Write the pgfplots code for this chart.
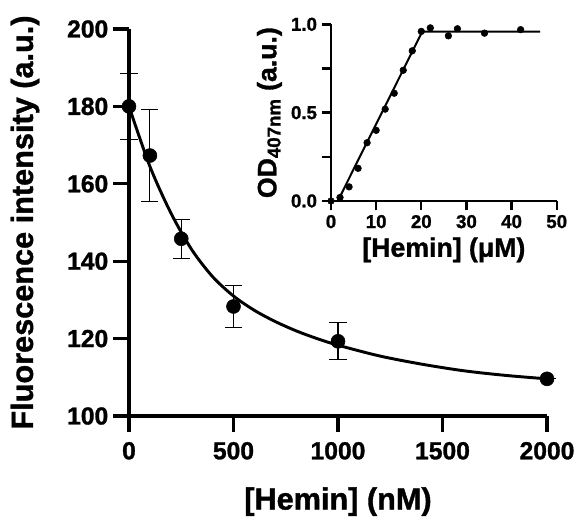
\documentclass[border=0pt]{standalone}
\usepackage{fontspec}
\setmainfont{Liberation Sans}[BoldFeatures={FakeBold=1.2}]
\usepackage{pgfplots}
\pgfplotsset{compat=1.18}
\usetikzlibrary{calc}

\begin{document}
\begin{tikzpicture}
\begin{axis}[
  name=main, at={(0,0)}, anchor=south west,
  width=313.5pt, height=290.25pt, scale only axis,
  xmin=0, xmax=2000, ymin=100, ymax=200,
  axis x line*=bottom, axis y line*=left,
  axis line style={line width=2.6pt},
  xtick={0,500,1000,1500,2000},
  ytick={100,120,140,160,180,200},
  tick align=outside, major tick length=12pt,
  tick style={line width=2.4pt, black},
  scaled ticks=false,
  /pgf/number format/assume math mode=true,
  /pgf/number format/1000 sep={},
  ticklabel style={font=\fontsize{18.5}{20}\selectfont\bfseries},
  xticklabel style={yshift=-4pt},
  xlabel={[Hemin] (nM)}, ylabel={Fluorescence intensity (a.u.)},
  label style={font=\fontsize{23}{26}\selectfont\bfseries},
  xlabel style={yshift=-14pt},
  ylabel style={yshift=14pt},
  clip=false,
]
% fitted curve
\addplot[line width=2.2pt, black, smooth] coordinates {
  (0,180) (100,164.5) (200,152.5) (300,143) (400,136) (500,131)
  (600,127.3) (700,124.4) (800,122) (900,120) (1000,118.3)
  (1200,115.5) (1400,113.4) (1600,111.7) (1800,110.5) (2000,109.6)
};
% measured points with error bars
\addplot[only marks, mark=*, mark size=5.25pt, black,
  error bars/.cd, y dir=both, y explicit,
  error bar style={line width=0.9pt},
  error mark options={rotate=90, mark size=6.4pt, line width=0.9pt}]
  coordinates {
  (0,180) +- (0,8.5)
  (100,167.3) +- (0,11.8)
  (250,145.8) +- (0,5)
  (500,128.3) +- (0,5.5)
  (1000,119.3) +- (0,4.8)
  (2000,109.6) +- (0,0)
};
\end{axis}

\begin{axis}[
  at={($(main.south west)+(151.5pt,161.25pt)$)}, anchor=south west,
  width=169.3pt, height=132.5pt, scale only axis,
  xmin=0, xmax=50, ymin=0, ymax=1,
  axis x line*=bottom, axis y line*=left,
  axis line style={line width=1.9pt},
  xtick={0,10,20,30,40,50},
  ytick={0,0.25,0.5,0.75,1},
  yticklabels={0.0,,0.5,,1.0},
  tick align=outside, major tick length=7pt,
  tick style={line width=1.8pt, black},
  /pgf/number format/assume math mode=true,
  ticklabel style={font=\fontsize{14}{16}\selectfont\bfseries},
  xlabel={[Hemin] (μM)}, ylabel={OD\textsubscript{407nm} (a.u.)},
  label style={font=\fontsize{20}{23}\selectfont\bfseries},
  clip=false,
]
\addplot[line width=1.5pt, black] coordinates {
  (1.5,0) (20.2,0.958) (46.3,0.958)
};
\addplot[only marks, mark=*, mark size=2.5pt, black] coordinates {
  (0,0) (2,0.02) (4,0.08) (6,0.185) (8,0.33) (10,0.40)
  (12,0.52) (14,0.61) (16,0.74) (18,0.85) (20,0.96)
  (22,0.98) (26,0.935) (28,0.975) (34,0.95) (42,0.97)
};
\end{axis}
\path ([shift={(-96.75pt,-77.25pt)}]main.south west)
  rectangle ([shift={(342pt,312pt)}]main.south west);
\end{tikzpicture}
\end{document}
